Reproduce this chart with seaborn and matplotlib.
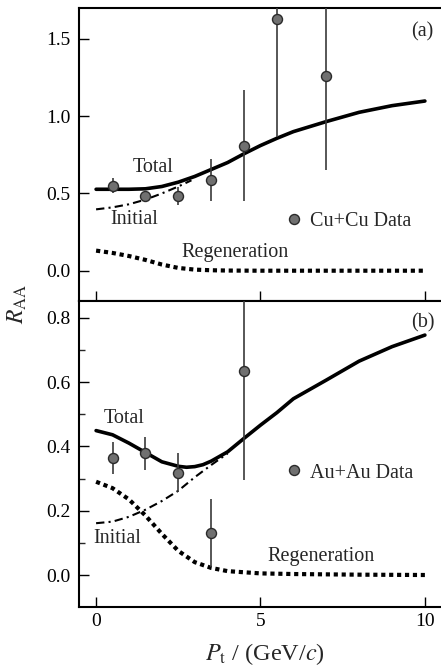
import matplotlib
matplotlib.use("Agg")
import matplotlib.pyplot as plt
import seaborn as sns
from matplotlib.lines import Line2D
from matplotlib.ticker import MultipleLocator

# ---------------- data ----------------
# Panel (a): Cu+Cu
cu_pt = [0.5, 1.5, 2.5, 3.5, 4.5, 5.5, 7.0]
cu_raa = [0.55, 0.483, 0.483, 0.587, 0.81, 1.627, 1.262]
cu_err = [0.05, 0.03, 0.06, 0.135, 0.36, 0.76, 0.61]

cu_total_x = [0, 0.5, 1, 1.5, 2, 2.5, 3, 3.5, 4, 4.5, 5, 5.5, 6, 7, 8, 9, 10]
cu_total_y = [0.527, 0.527, 0.527, 0.530, 0.545, 0.573, 0.610, 0.655, 0.700,
              0.757, 0.810, 0.857, 0.900, 0.965, 1.025, 1.068, 1.098]
cu_init_x = [0, 0.5, 1, 1.5, 2, 2.5, 2.9]
cu_init_y = [0.397, 0.41, 0.43, 0.46, 0.50, 0.545, 0.585]
cu_regen_x = [0, 0.5, 1, 1.5, 2, 2.5, 3, 3.5, 4, 5, 6, 8, 10]
cu_regen_y = [0.13, 0.115, 0.095, 0.07, 0.04, 0.018, 0.007, 0.003, 0.001, 0, 0, 0, 0]

# Panel (b): Au+Au
au_pt = [0.5, 1.5, 2.5, 3.5, 4.5]
au_raa = [0.363, 0.378, 0.318, 0.131, 0.634]
au_err = [0.05, 0.05, 0.06, 0.105, 0.34]

au_total_x = [0, 0.5, 1, 1.5, 2, 2.5, 2.75, 3, 3.25, 3.5, 4, 4.5, 5, 5.5, 6, 7, 8, 9, 10]
au_total_y = [0.449, 0.436, 0.410, 0.381, 0.352, 0.338, 0.335, 0.337, 0.343, 0.354,
              0.383, 0.425, 0.466, 0.505, 0.548, 0.606, 0.665, 0.710, 0.746]
au_init_x = [0, 0.5, 1, 1.5, 2, 2.5, 3, 3.5, 4]
au_init_y = [0.161, 0.166, 0.181, 0.203, 0.23, 0.262, 0.304, 0.342, 0.378]
au_regen_x = [0, 0.5, 1, 1.5, 2, 2.5, 3, 3.5, 4, 5, 6, 8, 10]
au_regen_y = [0.29, 0.27, 0.235, 0.185, 0.128, 0.075, 0.04, 0.022, 0.012, 0.005, 0.003, 0.001, 0]

x_ticks = [0, 5, 10]
a_yticks = [0.0, 0.5, 1.0, 1.5]
a_ylabels = ['0.0', '0.5', '1.0', '1.5']
b_yticks = [0.0, 0.2, 0.4, 0.6, 0.8]
b_ylabels = ['0.0', '0.2', '0.4', '0.6', '0.8']

# ---------------- style ----------------
sns.set_style("ticks")
plt.rcParams['font.family'] = ['Liberation Serif', 'DejaVu Serif']
plt.rcParams['mathtext.fontset'] = 'stix'

W, H = 441, 669
fig = plt.figure(figsize=(W / 100, H / 100), dpi=100)

left = 79 / W
right = 1.0
ax_a = fig.add_axes([left, 1 - 301 / H, right - left, (301 - 8) / H])
ax_b = fig.add_axes([left, 1 - 607 / H, right - left, (607 - 301) / H])

xlim = (-0.52, 10.49)
FS_TICK = 14
FS = 14.5

dashdot = (0, (4, 2, 1, 2))
dotted = (0, (1, 0.9))


def draw_panel(ax, pt, raa, err, tx, ty, ix, iy, rx, ry, label, tag,
               ylim, yticks, ylabels, txt_total, txt_init, txt_regen, tag_pos, leg_anchor):
    sns.lineplot(x=rx, y=ry, ax=ax, color='black', lw=3.0,
                 linestyle=dotted, dash_capstyle='butt', zorder=2)
    sns.lineplot(x=ix, y=iy, ax=ax, color='black', lw=1.5,
                 linestyle=dashdot, zorder=2)
    sns.lineplot(x=tx, y=ty, ax=ax, color='black', lw=2.6, zorder=3,
                 solid_joinstyle='round')
    ax.errorbar(pt, raa, yerr=err, fmt='none', ecolor='#3a3a3a',
                elinewidth=1.2, capsize=0, zorder=4)
    sns.scatterplot(x=pt, y=raa, ax=ax, s=52, color='#707070',
                    edgecolor='#2a2a2a', linewidth=1.0, zorder=5)
    ax.set_xlim(*xlim)
    ax.set_ylim(*ylim)
    ax.set_xticks(x_ticks)
    ax.set_yticks(yticks)
    ax.set_yticklabels(ylabels)
    for s in ['left', 'bottom', 'top']:
        ax.spines[s].set_linewidth(1.5)
        ax.spines[s].set_color('black')
    ax.spines['right'].set_visible(False)
    ax.tick_params(axis='both', direction='in', length=7, width=1.0,
                   labelsize=FS_TICK, colors='black')
    ax.tick_params(axis='y', pad=6)
    ax.tick_params(axis='x', pad=4)
    ax.set_xlabel('')
    ax.set_ylabel('')
    ax.text(txt_total[0], txt_total[1], 'Total', fontsize=FS, ha='center', va='center')
    ax.text(txt_init[0], txt_init[1], 'Initial', fontsize=FS, ha='center', va='center')
    ax.text(txt_regen[0], txt_regen[1], 'Regeneration', fontsize=FS, ha='center', va='center')
    ax.text(tag_pos[0], tag_pos[1], tag, fontsize=FS, ha='center', va='center')
    h = Line2D([], [], marker='o', linestyle='none', markersize=7.2,
               markerfacecolor='#707070', markeredgecolor='#2a2a2a', markeredgewidth=1.0)
    ax.legend([h], [label], frameon=False, loc='center left',
              bbox_to_anchor=leg_anchor, fontsize=FS, handletextpad=0.3,
              handlelength=1.0, borderpad=0, borderaxespad=0)


draw_panel(ax_a, cu_pt, cu_raa, cu_err, cu_total_x, cu_total_y, cu_init_x, cu_init_y,
           cu_regen_x, cu_regen_y, 'Cu+Cu Data', '(a)', (-0.196, 1.70), a_yticks, a_ylabels,
           (1.73, 0.665), (1.16, 0.33), (4.22, 0.117), (9.91, 1.545), (0.565, 0.27))
ax_a.tick_params(axis='x', labelbottom=False)

draw_panel(ax_b, au_pt, au_raa, au_err, au_total_x, au_total_y, au_init_x, au_init_y,
           au_regen_x, au_regen_y, 'Au+Au Data', '(b)', (-0.0995, 0.852), b_yticks, b_ylabels,
           (0.85, 0.488), (0.64, 0.115), (6.84, 0.058), (9.94, 0.783), (0.565, 0.438))
ax_b.yaxis.set_minor_locator(MultipleLocator(0.1))
ax_b.tick_params(axis='y', which='minor', direction='in', length=4, width=1.0)

fig.text(17 / W, 1 - 304 / H, r'$R_{\mathrm{AA}}$', rotation=90, fontsize=17,
         ha='center', va='center')
fig.text(265 / W, 1 - 654 / H, r'$P_{\mathrm{t}}$ / (GeV/$c$)', fontsize=17.5,
         ha='center', va='center')

fig.savefig('out.png', dpi=100)
